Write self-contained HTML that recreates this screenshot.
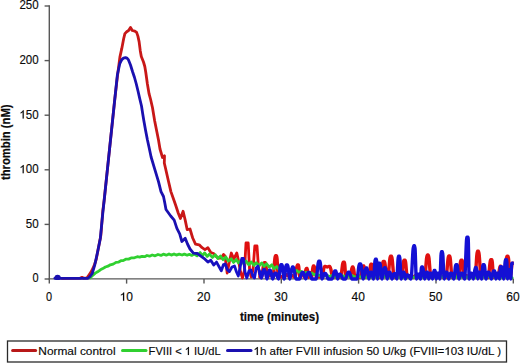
<!DOCTYPE html>
<html><head><meta charset="utf-8"><style>html,body{margin:0;padding:0;background:#fff;width:520px;height:364px;overflow:hidden}svg{display:block}</style></head>
<body><svg width="520" height="364" viewBox="0 0 520 364">
<rect width="520" height="364" fill="#fff"/>
<g stroke="#585858" stroke-width="1.4" fill="none">
<line x1="49.3" y1="5.3" x2="49.3" y2="279.6"/>
<line x1="48.6" y1="278.9" x2="513.6" y2="278.9"/>
<line x1="44.6" y1="279.0" x2="49.3" y2="279.0"/><line x1="44.6" y1="224.4" x2="49.3" y2="224.4"/><line x1="44.6" y1="169.8" x2="49.3" y2="169.8"/><line x1="44.6" y1="115.2" x2="49.3" y2="115.2"/><line x1="44.6" y1="60.6" x2="49.3" y2="60.6"/><line x1="44.6" y1="6.0" x2="49.3" y2="6.0"/><line x1="49.3" y1="278.9" x2="49.3" y2="283.6"/><line x1="126.6" y1="278.9" x2="126.6" y2="283.6"/><line x1="204.0" y1="278.9" x2="204.0" y2="283.6"/><line x1="281.3" y1="278.9" x2="281.3" y2="283.6"/><line x1="358.6" y1="278.9" x2="358.6" y2="283.6"/><line x1="436.0" y1="278.9" x2="436.0" y2="283.6"/><line x1="513.3" y1="278.9" x2="513.3" y2="283.6"/>
</g>
<defs><linearGradient id="gb" gradientUnits="userSpaceOnUse" x1="185" y1="0" x2="255" y2="0"><stop offset="0" stop-color="#1a10b0"/><stop offset="1" stop-color="#1410d4"/></linearGradient>
<linearGradient id="gr" gradientUnits="userSpaceOnUse" x1="190" y1="0" x2="250" y2="0"><stop offset="0" stop-color="#c81818"/><stop offset="1" stop-color="#e01010"/></linearGradient><clipPath id="pc"><rect x="49" y="0" width="464.8" height="281"/></clipPath></defs>
<g fill="none" stroke-linejoin="round" stroke-linecap="round" stroke-width="2.8" clip-path="url(#pc)">
<polyline points="62.0,278.3 80.0,278.2 82.0,277.3 84.0,278.2 87.0,277.8 88.8,275.3 90.8,272.4 93.0,268.2 95.0,263.3 96.3,259.0 98.0,250.0 100.8,235.8 102.8,211.0 104.2,200.0 114.7,100.0 117.2,78.0 119.9,57.1 121.8,48.4 123.7,38.5 124.9,33.6 126.7,31.7 128.6,30.5 130.5,27.4 132.3,30.5 134.8,31.1 136.6,32.4 137.9,36.1 139.1,41.6 140.3,50.9 141.3,56.5 143.5,62.0 144.8,66.5 145.8,72.5 147.4,84.0 149.1,93.9 150.5,99.0 152.5,107.7 154.7,121.0 156.9,132.0 158.5,140.0 160.0,149.0 162.5,157.5 164.5,155.8 164.3,163.0 165.8,169.5 168.3,180.5 170.9,191.6 173.5,199.0 175.6,205.0 178.3,213.2 180.4,218.5 183.1,211.2 185.2,220.1 187.2,229.7 190.0,229.0 192.7,238.0 195.5,244.1 199.2,244.8 202.1,247.7 205.0,249.6 207.9,247.7 210.8,252.5 213.7,253.5 215.6,256.0 218.5,258.0 221.3,258.0 223.5,254.5 225.0,256.0 227.2,273.0 229.3,262.0 231.3,253.0 233.8,259.0 236.8,253.0 238.8,262.0 240.5,272.0 242.5,278.0 244.5,270.0 246.0,243.0 248.2,243.0 249.6,270.0 251.2,277.0 253.0,270.0 254.8,246.0 257.0,246.0 258.5,268.0 260.0,277.0" stroke="url(#gr)"/>
<path d="M260.0,277.0C260.50,277.00 261.00,277.00 261.5,277.0C262.40,277.00 263.30,262.70 264.2,262.7C264.60,262.70 265.00,262.70 265.4,262.7C266.07,262.70 266.73,277.30 267.4,277.3C268.07,277.30 268.73,274.70 269.4,274.7C269.80,274.70 270.20,274.70 270.6,274.7C271.40,274.70 272.20,277.30 273.0,277.3C273.80,277.30 274.60,255.70 275.4,255.7C275.80,255.70 276.20,255.70 276.6,255.7C277.23,255.70 277.87,277.30 278.5,277.3C279.13,277.30 279.77,276.70 280.4,276.7C280.80,276.70 281.20,276.70 281.6,276.7C282.40,276.70 283.20,277.30 284.0,277.3C284.80,277.30 285.60,274.70 286.4,274.7C286.80,274.70 287.20,274.70 287.6,274.7C288.23,274.70 288.87,277.30 289.5,277.3C290.13,277.30 290.77,275.70 291.4,275.7C291.80,275.70 292.20,275.70 292.6,275.7C293.37,275.70 294.13,277.30 294.9,277.3C295.67,277.30 296.43,265.00 297.2,265.0C297.60,265.00 298.00,265.00 298.4,265.0C298.90,265.00 299.40,277.30 299.9,277.3C300.40,277.30 300.90,273.70 301.4,273.7C301.80,273.70 302.20,273.70 302.6,273.7C303.18,273.70 303.77,277.30 304.4,277.3C304.93,277.30 305.52,268.50 306.1,268.5C306.50,268.50 306.90,268.50 307.3,268.5C307.65,268.50 308.00,277.30 308.4,277.3C308.70,277.30 309.05,272.70 309.4,272.7C309.80,272.70 310.20,272.70 310.6,272.7C311.00,272.70 311.40,277.30 311.8,277.3C312.20,277.30 312.60,266.00 313.0,266.0C313.40,266.00 313.80,266.00 314.2,266.0C314.90,266.00 315.60,277.30 316.3,277.3C317.00,277.30 317.70,276.70 318.4,276.7C318.80,276.70 319.20,276.70 319.6,276.7C320.40,276.70 321.20,277.30 322.0,277.3C322.80,277.30 323.60,266.50 324.4,266.5C324.80,266.50 325.20,266.50 325.6,266.5C326.13,266.50 326.67,267.00 327.2,267.0C327.73,267.00 328.27,266.50 328.8,266.5C329.20,266.50 329.60,266.50 330.0,266.5C330.90,266.50 331.80,277.30 332.7,277.3C333.60,277.30 334.50,276.70 335.4,276.7C335.80,276.70 336.20,276.70 336.6,276.7C337.47,276.70 338.33,277.30 339.2,277.3C339.67,277.30 340.13,277.30 340.6,277.3C341.47,277.30 342.33,262.20 343.2,262.2C343.60,262.20 344.00,262.20 344.4,262.2C344.90,262.20 345.40,277.30 345.9,277.3C346.40,277.30 346.90,273.70 347.4,273.7C347.80,273.70 348.20,273.70 348.6,273.7C349.18,273.70 349.77,277.30 350.4,277.3C350.93,277.30 351.52,267.00 352.1,267.0C352.50,267.00 352.90,267.00 353.3,267.0C353.82,267.00 354.33,277.30 354.9,277.3C355.37,277.30 355.88,275.70 356.4,275.7C356.80,275.70 357.20,275.70 357.6,275.7C358.50,275.70 359.40,277.30 360.3,277.3C361.20,277.30 362.10,266.00 363.0,266.0C363.40,266.00 363.80,266.00 364.2,266.0C364.57,266.00 364.93,277.30 365.3,277.3C365.67,277.30 366.03,274.70 366.4,274.7C366.80,274.70 367.20,274.70 367.6,274.7C368.13,274.70 368.67,277.30 369.2,277.3C369.73,277.30 370.27,264.20 370.8,264.2C371.20,264.20 371.60,264.20 372.0,264.2C372.73,264.20 373.47,277.30 374.2,277.3C374.93,277.30 375.67,274.70 376.4,274.7C376.80,274.70 377.20,274.70 377.6,274.7C378.47,274.70 379.33,277.30 380.2,277.3C380.33,277.30 380.47,277.30 380.6,277.3C381.47,277.30 382.33,261.40 383.2,261.4C383.60,261.40 384.00,261.40 384.4,261.4C385.27,261.40 386.13,277.30 387.0,277.3C387.27,277.30 387.53,277.30 387.8,277.3C388.67,277.30 389.53,256.30 390.4,256.3C390.80,256.30 391.20,256.30 391.6,256.3C392.47,256.30 393.33,277.30 394.2,277.3C394.40,277.30 394.60,277.30 394.8,277.3C395.67,277.30 396.53,274.70 397.4,274.7C397.80,274.70 398.20,274.70 398.6,274.7C399.50,274.70 400.40,277.30 401.3,277.3C402.20,277.30 403.10,260.30 404.0,260.3C404.40,260.30 404.80,260.30 405.2,260.3C405.90,260.30 406.60,277.30 407.3,277.3C408.00,277.30 408.70,275.70 409.4,275.7C409.80,275.70 410.20,275.70 410.6,275.7C411.40,275.70 412.20,277.30 413.0,277.3C413.80,277.30 414.60,275.70 415.4,275.7C415.80,275.70 416.20,275.70 416.6,275.7C417.23,275.70 417.87,277.30 418.5,277.3C419.13,277.30 419.77,273.70 420.4,273.7C420.80,273.70 421.20,273.70 421.6,273.7C422.47,273.70 423.33,277.30 424.2,277.3C424.33,277.30 424.47,277.30 424.6,277.3C425.47,277.30 426.33,255.00 427.2,255.0C427.60,255.00 428.00,255.00 428.4,255.0C429.23,255.00 430.07,277.30 430.9,277.3C431.73,277.30 432.57,273.70 433.4,273.7C433.80,273.70 434.20,273.70 434.6,273.7C435.40,273.70 436.20,277.30 437.0,277.3C437.80,277.30 438.60,275.70 439.4,275.7C439.80,275.70 440.20,275.70 440.6,275.7C441.47,275.70 442.33,277.30 443.2,277.3C444.13,277.30 445.07,277.30 446.0,277.3C446.87,277.30 447.73,256.00 448.6,256.0C449.00,256.00 449.40,256.00 449.8,256.0C450.57,256.00 451.33,277.30 452.1,277.3C452.87,277.30 453.63,273.70 454.4,273.7C454.80,273.70 455.20,273.70 455.6,273.7C456.50,273.70 457.40,277.30 458.3,277.3C459.20,277.30 460.10,260.30 461.0,260.3C461.40,260.30 461.80,260.30 462.2,260.3C462.73,260.30 463.27,277.30 463.8,277.3C464.33,277.30 464.87,275.70 465.4,275.7C465.80,275.70 466.20,275.70 466.6,275.7C467.40,275.70 468.20,277.30 469.0,277.3C469.80,277.30 470.60,275.70 471.4,275.7C471.80,275.70 472.20,275.70 472.6,275.7C473.40,275.70 474.20,277.30 475.0,277.3C475.80,277.30 476.60,251.30 477.4,251.3C477.80,251.30 478.20,251.30 478.6,251.3C479.47,251.30 480.33,277.30 481.2,277.3C481.40,277.30 481.60,277.30 481.8,277.3C482.67,277.30 483.53,273.70 484.4,273.7C484.80,273.70 485.20,273.70 485.6,273.7C486.45,273.70 487.30,277.30 488.1,277.3C489.00,277.30 489.85,259.70 490.7,259.7C491.10,259.70 491.50,259.70 491.9,259.7C492.48,259.70 493.07,277.30 493.6,277.3C494.23,277.30 494.82,273.70 495.4,273.7C495.80,273.70 496.20,273.70 496.6,273.7C497.15,273.70 497.70,277.30 498.2,277.3C498.80,277.30 499.35,266.10 499.9,266.1C500.30,266.10 500.70,266.10 501.1,266.1C501.97,266.10 502.83,277.30 503.7,277.3C503.90,277.30 504.10,277.30 504.3,277.3C505.17,277.30 506.03,256.20 506.9,256.2C507.30,256.20 507.70,256.20 508.1,256.2C508.82,256.20 509.53,277.30 510.2,277.3C510.97,277.30 511.68,263.30 512.4,263.3C512.80,263.30 513.20,263.30 513.6,263.3" stroke="url(#gr)" stroke-width="3.4"/>
<polyline points="90.0,277.9 92.6,275.5 95.3,273.1 97.6,271.8 100.4,269.8 102.8,268.6 105.4,267.0 108.0,266.2 110.3,264.8 113.2,264.1 116.0,262.4 118.3,262.2 120.9,260.7 123.2,260.6 125.7,259.2 128.6,259.1 131.6,257.8 134.4,257.8 137.3,256.7 139.6,257.1 142.0,256.3 144.6,256.7 147.0,255.5 149.5,256.2 152.2,255.0 155.1,255.8 158.0,254.5 161.0,255.4 163.3,254.2 166.3,255.2 169.0,254.0 171.3,255.1 174.0,254.0 176.3,255.1 179.2,254.1 182.1,255.0 184.4,254.1 187.2,255.2 189.4,254.3 191.7,255.4 194.2,254.1 197.1,255.9 200.1,252.6 202.4,255.7 204.6,252.9 207.2,256.4 209.5,254.1 212.4,257.4 215.3,254.8 217.8,258.6 220.5,256.0 223.1,259.7 225.8,257.0 228.4,261.0 231.2,258.8 233.6,262.4 236.3,259.5 238.5,262.9 241.1,260.6 243.8,263.9 246.1,261.1 248.7,264.8 251.2,261.9 253.9,265.3 256.2,262.7 259.2,265.8 261.7,262.9 264.2,266.3 266.6,263.8 269.3,267.1 271.8,264.8 274.0,268.7 276.8,266.5 279.2,270.0 281.6,268.1 284.2,269.8 286.4,268.8 288.9,270.6 291.5,269.6 293.8,271.4 296.5,270.5 299.1,272.3 301.4,271.4 303.8,273.2 306.6,272.3 309.0,274.1 311.8,273.0 314.2,274.7 316.7,273.8 319.1,275.5 321.6,274.5 324.2,276.1 326.5,275.0 329.4,276.6 332.4,275.4 335.4,277.1 337.7,275.6 340.6,277.1 343.2,275.8 345.7,277.1 348.0,275.8 350.4,277.3 352.6,275.7 355.4,277.3 358.3,275.8 361.0,277.2 363.8,276.0 366.2,277.4 368.8,276.0 371.8,277.4 374.2,276.1 377.1,277.4 379.9,276.1 382.3,277.4 385.2,276.1 388.0,277.5 390.8,276.0 393.0,277.5 395.9,276.2 398.3,277.4 401.0,276.1 403.5,277.6 405.8,276.2 408.1,277.4 410.3,276.0 413.2,277.4 415.8,276.2 418.3,277.5 421.0,276.2 423.5,277.5 425.9,276.3 428.6,277.6 431.1,276.3 433.4,277.6 436.1,276.2 438.6,277.7 441.3,276.3 443.8,277.7 446.6,276.3 449.3,277.7 451.7,276.3 454.5,277.6 457.0,276.4 459.9,277.8 462.4,276.3 465.2,277.7 467.8,276.5 470.7,277.8 473.6,276.3 476.3,277.8 478.9,276.5 481.6,277.7 483.9,276.4 486.2,277.7 488.5,276.4 490.8,277.7 493.7,276.5 496.5,277.9 499.4,276.4 502.1,277.9 504.3,276.4 506.9,277.9 509.2,276.4 512.2,277.8" stroke="#30d030"/>
<polyline points="54.8,278.3 60.4,278.3 87.7,278.3 89.8,276.7 92.2,273.5 94.8,264.8 97.7,251.5 100.3,238.5 102.8,213.0 104.2,200.0 114.7,100.0 117.4,74.7 119.8,63.5 121.8,59.6 123.5,58.1 125.5,57.6 127.0,58.1 128.5,59.9 130.5,65.0 132.5,71.5 134.5,77.5 136.3,84.0 138.0,91.0 139.7,98.5 141.5,106.0 142.7,113.7 143.9,121.0 145.6,130.5 147.4,139.8 149.2,148.0 151.1,157.0 154.8,169.4 158.5,181.7 161.0,191.6 163.5,196.5 164.8,203.0 166.0,209.5 170.7,216.0 174.2,220.1 176.9,228.4 179.7,233.8 181.9,241.5 183.5,240.0 185.2,238.2 187.5,244.0 190.0,249.0 193.4,253.1 197.3,253.5 201.2,256.3 205.0,259.2 207.9,262.1 210.8,260.2 213.7,265.0 216.5,262.1 221.3,270.8 223.5,264.5 225.2,264.0 227.5,270.0 229.4,271.6 232.0,267.0 234.5,266.0 236.5,272.0 238.3,276.0 240.0,268.0 241.8,258.5 243.5,258.5 245.0,272.0 246.8,278.0 249.0,271.0 250.9,270.0 252.8,276.0 254.5,278.0 256.2,268.0 258.0,266.0 259.6,272.0" stroke="url(#gb)"/>
<ellipse cx="57.6" cy="277.4" rx="3.1" ry="2.6" fill="#1a10b0" stroke="none"/>
<path d="M259.6,272.0C260.17,274.00 260.73,278.00 261.3,278.0C262.03,278.00 262.77,269.70 263.5,269.7C263.90,269.70 264.30,269.70 264.7,269.7C265.45,269.70 266.20,279.00 267.0,279.0C267.70,279.00 268.45,270.20 269.2,270.2C269.60,270.20 270.00,270.20 270.4,270.2C271.15,270.20 271.90,279.00 272.6,279.0C273.40,279.00 274.15,273.20 274.9,273.2C275.30,273.20 275.70,273.20 276.1,273.2C276.88,273.20 277.67,279.00 278.4,279.0C279.23,279.00 280.02,264.70 280.8,264.7C281.20,264.70 281.60,264.70 282.0,264.7C282.72,264.70 283.43,279.00 284.1,279.0C284.87,279.00 285.58,265.00 286.3,265.0C286.70,265.00 287.10,265.00 287.5,265.0C288.28,265.00 289.07,279.00 289.9,279.0C290.63,279.00 291.42,267.00 292.2,267.0C292.60,267.00 293.00,267.00 293.4,267.0C294.27,267.00 295.13,279.00 296.0,279.0C297.17,279.00 298.33,279.00 299.5,279.0C300.37,279.00 301.23,272.40 302.1,272.4C302.50,272.40 302.90,272.40 303.3,272.4C304.10,272.40 304.90,279.00 305.7,279.0C306.50,279.00 307.30,272.40 308.1,272.4C308.50,272.40 308.90,272.40 309.3,272.4C310.17,272.40 311.03,279.00 311.9,279.0C313.30,279.00 314.70,279.00 316.1,279.0C316.97,279.00 317.83,261.20 318.7,261.2C319.10,261.20 319.50,261.20 319.9,261.2C320.65,261.20 321.40,279.00 322.1,279.0C322.90,279.00 323.65,273.40 324.4,273.4C324.80,273.40 325.20,273.40 325.6,273.4C326.47,273.40 327.33,279.00 328.2,279.0C329.50,279.00 330.80,279.00 332.1,279.0C332.97,279.00 333.83,271.00 334.7,271.0C335.10,271.00 335.50,271.00 335.9,271.0C336.45,271.00 337.00,279.00 337.6,279.0C338.10,279.00 338.65,274.20 339.2,274.2C339.60,274.20 340.00,274.20 340.4,274.2C341.27,274.20 342.13,279.00 343.0,279.0C343.83,279.00 344.67,279.00 345.5,279.0C346.37,279.00 347.23,272.20 348.1,272.2C348.50,272.20 348.90,272.20 349.3,272.2C350.17,272.20 351.03,279.00 351.9,279.0C353.57,279.00 355.23,279.00 356.9,279.0C357.77,279.00 358.63,264.00 359.5,264.0C359.90,264.00 360.30,264.00 360.7,264.0C361.57,264.00 362.43,279.00 363.3,279.0C364.17,279.00 365.03,268.00 365.9,268.0C366.30,268.00 366.70,268.00 367.1,268.0C367.65,268.00 368.20,279.00 368.8,279.0C369.30,279.00 369.85,272.20 370.4,272.2C370.80,272.20 371.20,272.20 371.6,272.2C372.22,272.20 372.83,279.00 373.4,279.0C374.07,279.00 374.68,259.20 375.3,259.2C375.70,259.20 376.10,259.20 376.5,259.2C376.87,259.20 377.23,279.00 377.6,279.0C377.97,279.00 378.33,263.10 378.7,263.1C379.10,263.10 379.50,263.10 379.9,263.1C380.63,263.10 381.37,279.00 382.1,279.0C382.83,279.00 383.57,267.60 384.3,267.6C384.70,267.60 385.10,267.60 385.5,267.6C386.07,267.60 386.63,279.00 387.2,279.0C387.77,279.00 388.33,272.20 388.9,272.2C389.30,272.20 389.70,272.20 390.1,272.2C390.73,272.20 391.37,279.00 392.0,279.0C392.63,279.00 393.27,273.70 393.9,273.7C394.30,273.70 394.70,273.70 395.1,273.7C395.65,273.70 396.20,279.00 396.8,279.0C397.30,279.00 397.85,256.30 398.4,256.3C398.80,256.30 399.20,256.30 399.6,256.3C400.15,256.30 400.70,279.00 401.2,279.0C401.80,279.00 402.35,272.20 402.9,272.2C403.30,272.20 403.70,272.20 404.1,272.2C404.55,272.20 405.00,279.00 405.4,279.0C405.90,279.00 406.35,274.90 406.8,274.9C407.20,274.90 407.60,274.90 408.0,274.9C408.87,274.90 409.73,279.00 410.6,279.0C410.73,279.00 410.87,279.00 411.0,279.0C411.87,279.00 412.73,245.70 413.6,245.7C414.00,245.70 414.40,245.70 414.8,245.7C415.32,245.70 415.83,279.00 416.4,279.0C416.87,279.00 417.38,274.20 417.9,274.2C418.30,274.20 418.70,274.20 419.1,274.2C419.52,274.20 419.93,279.00 420.4,279.0C420.77,279.00 421.18,267.00 421.6,267.0C422.00,267.00 422.40,267.00 422.8,267.0C423.40,267.00 424.00,279.00 424.6,279.0C425.20,279.00 425.80,272.20 426.4,272.2C426.80,272.20 427.20,272.20 427.6,272.2C427.98,272.20 428.37,279.00 428.8,279.0C429.13,279.00 429.52,273.20 429.9,273.2C430.30,273.20 430.70,273.20 431.1,273.2C431.58,273.20 432.07,279.00 432.6,279.0C433.03,279.00 433.52,270.40 434.0,270.4C434.40,270.40 434.80,270.40 435.2,270.4C435.57,270.40 435.93,279.00 436.3,279.0C436.67,279.00 437.03,273.20 437.4,273.2C437.80,273.20 438.20,273.20 438.6,273.2C439.05,273.20 439.50,279.00 439.9,279.0C440.40,279.00 440.85,251.80 441.3,251.8C441.70,251.80 442.10,251.80 442.5,251.8C443.07,251.80 443.63,279.00 444.2,279.0C444.77,279.00 445.33,272.20 445.9,272.2C446.30,272.20 446.70,272.20 447.1,272.2C447.65,272.20 448.20,279.00 448.8,279.0C449.30,279.00 449.85,273.20 450.4,273.2C450.80,273.20 451.20,273.20 451.6,273.2C452.32,273.20 453.03,279.00 453.8,279.0C454.47,279.00 455.18,264.80 455.9,264.8C456.30,264.80 456.70,264.80 457.1,264.8C457.75,264.80 458.40,279.00 459.1,279.0C459.70,279.00 460.35,273.20 461.0,273.2C461.40,273.20 461.80,273.20 462.2,273.2C462.98,273.20 463.77,279.00 464.6,279.0C465.33,279.00 466.12,237.30 466.9,237.3C467.30,237.30 467.70,237.30 468.1,237.3C468.48,237.30 468.87,279.00 469.2,279.0C469.63,279.00 470.02,273.20 470.4,273.2C470.80,273.20 471.20,273.20 471.6,273.2C472.22,273.20 472.83,279.00 473.4,279.0C474.07,279.00 474.68,267.50 475.3,267.5C475.70,267.50 476.10,267.50 476.5,267.5C476.90,267.50 477.30,279.00 477.7,279.0C478.10,279.00 478.50,272.20 478.9,272.2C479.30,272.20 479.70,272.20 480.1,272.2C480.58,272.20 481.07,279.00 481.6,279.0C482.03,279.00 482.52,264.70 483.0,264.7C483.40,264.70 483.80,264.70 484.2,264.7C484.82,264.70 485.43,279.00 486.1,279.0C486.67,279.00 487.28,272.20 487.9,272.2C488.30,272.20 488.70,272.20 489.1,272.2C489.85,272.20 490.60,279.00 491.4,279.0C492.10,279.00 492.85,271.00 493.6,271.0C494.00,271.00 494.40,271.00 494.8,271.0C495.20,271.00 495.60,279.00 496.0,279.0C496.40,279.00 496.80,273.20 497.2,273.2C497.60,273.20 498.00,273.20 498.4,273.2C498.77,273.20 499.13,279.00 499.5,279.0C499.87,279.00 500.23,266.70 500.6,266.7C501.00,266.70 501.40,266.70 501.8,266.7C502.42,266.70 503.03,279.00 503.6,279.0C504.27,279.00 504.88,259.70 505.5,259.7C505.90,259.70 506.30,259.70 506.7,259.7C506.98,259.70 507.27,279.00 507.6,279.0C507.83,279.00 508.12,269.70 508.4,269.7C508.80,269.70 509.20,269.70 509.6,269.7C509.97,269.70 510.33,279.00 510.7,279.0C511.07,279.00 511.43,263.30 511.8,263.3C512.20,263.30 512.60,263.30 513.0,263.3" stroke="url(#gb)" stroke-width="3.4"/>
</g>
<g font-family="Liberation Sans, sans-serif" font-size="12" fill="#0a0a0a" stroke="#0a0a0a" stroke-width="0.15">
<text x="38.6" y="282.4" text-anchor="end" textLength="6.1" lengthAdjust="spacingAndGlyphs">0</text><text x="38.6" y="227.8" text-anchor="end" textLength="12.9" lengthAdjust="spacingAndGlyphs">50</text><text x="38.6" y="173.2" text-anchor="end" textLength="19.2" lengthAdjust="spacingAndGlyphs"> 00</text><path transform="matrix(0.00563 0 0 -0.00586 19.40 173.20)" stroke-width="20" d="M775 0L575 0L575 1095C532 1054 475 1014 405 974C334 934 271 904 215 884L215 1058C316 1103 404 1159 479 1223C554 1288 607 1350 638 1409L775 1409Z"/><text x="38.6" y="118.6" text-anchor="end" textLength="19.2" lengthAdjust="spacingAndGlyphs"> 50</text><path transform="matrix(0.00563 0 0 -0.00586 19.40 118.60)" stroke-width="20" d="M775 0L575 0L575 1095C532 1054 475 1014 405 974C334 934 271 904 215 884L215 1058C316 1103 404 1159 479 1223C554 1288 607 1350 638 1409L775 1409Z"/><text x="38.6" y="64.0" text-anchor="end" textLength="19.2" lengthAdjust="spacingAndGlyphs">200</text><text x="38.6" y="9.4" text-anchor="end" textLength="19.2" lengthAdjust="spacingAndGlyphs">250</text>
<text x="49.0" y="300.8" text-anchor="middle" textLength="6.1" lengthAdjust="spacingAndGlyphs">0</text><text x="126.3" y="300.8" text-anchor="middle"> 0</text><path transform="matrix(0.00587 0 0 -0.00586 119.62 300.80)" stroke-width="20" d="M775 0L575 0L575 1095C532 1054 475 1014 405 974C334 934 271 904 215 884L215 1058C316 1103 404 1159 479 1223C554 1288 607 1350 638 1409L775 1409Z"/><text x="203.7" y="300.8" text-anchor="middle">20</text><text x="281.0" y="300.8" text-anchor="middle">30</text><text x="358.3" y="300.8" text-anchor="middle">40</text><text x="435.7" y="300.8" text-anchor="middle">50</text><text x="513.0" y="300.8" text-anchor="middle">60</text>
</g>
<g font-family="Liberation Sans, sans-serif" font-size="12.2" font-weight="bold" fill="#0a0a0a" stroke="#0a0a0a" stroke-width="0.2">
<text x="240" y="320.5" textLength="79" lengthAdjust="spacingAndGlyphs">time (minutes)</text>
<text transform="translate(10.3,180) rotate(-90)" textLength="75.5" lengthAdjust="spacingAndGlyphs">thrombin (nM)</text>
</g>
<rect x="7.5" y="341" width="499" height="21" fill="none" stroke="#2a2a2a" stroke-width="1.3"/>
<g stroke-width="3" stroke-linecap="round">
<line x1="12.6" y1="350.6" x2="35.6" y2="350.6" stroke="#b81818"/>
<line x1="122.5" y1="350.5" x2="146" y2="350.5" stroke="#30d030"/>
<line x1="227.5" y1="350.5" x2="251" y2="350.5" stroke="#1a10b0"/>
</g>
<g font-family="Liberation Sans, sans-serif" font-size="11.6" fill="#0a0a0a" stroke="#0a0a0a" stroke-width="0.15">
<text x="38.3" y="355" textLength="77.3" lengthAdjust="spacingAndGlyphs">Normal control</text>
<text x="148.6" y="355" textLength="72" lengthAdjust="spacingAndGlyphs">FVIII &lt;   IU/dL</text><path transform="matrix(0.00543 0 0 -0.00566 184.74 355.00)" stroke-width="21" d="M775 0L575 0L575 1095C532 1054 475 1014 405 974C334 934 271 904 215 884L215 1058C316 1103 404 1159 479 1223C554 1288 607 1350 638 1409L775 1409Z"/>
<text x="253.5" y="355" textLength="247.5" lengthAdjust="spacingAndGlyphs"> h after FVIII infusion 50 U/kg (FVIII= 03 IU/dL )</text><path transform="matrix(0.00564 0 0 -0.00566 253.50 355.00)" stroke-width="21" d="M775 0L575 0L575 1095C532 1054 475 1014 405 974C334 934 271 904 215 884L215 1058C316 1103 404 1159 479 1223C554 1288 607 1350 638 1409L775 1409Z"/><path transform="matrix(0.00564 0 0 -0.00566 444.32 355.00)" stroke-width="21" d="M775 0L575 0L575 1095C532 1054 475 1014 405 974C334 934 271 904 215 884L215 1058C316 1103 404 1159 479 1223C554 1288 607 1350 638 1409L775 1409Z"/>
</g>
</svg></body></html>
